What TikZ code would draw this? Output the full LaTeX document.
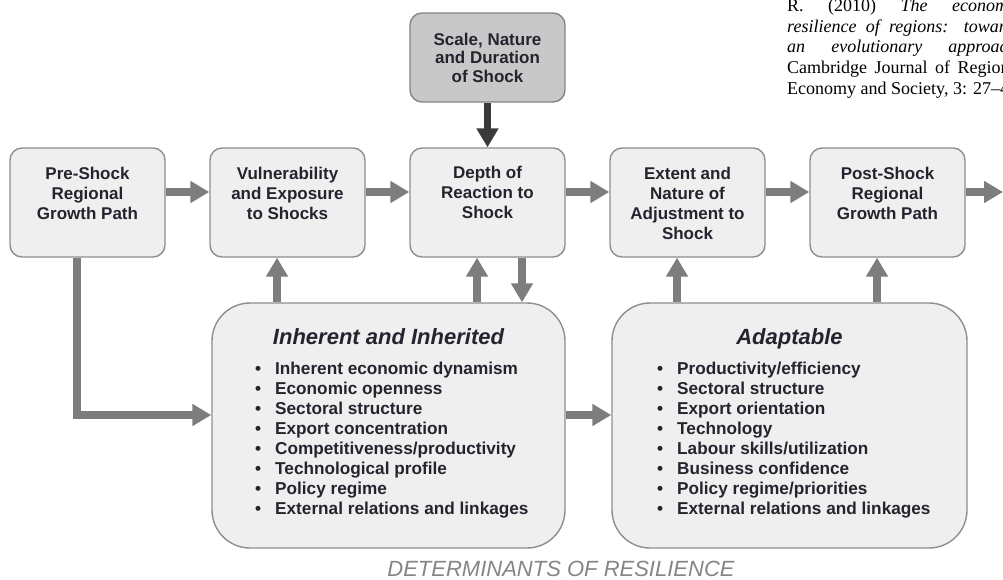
\documentclass[tikz,border=0pt]{standalone}
\usepackage{fontspec}
\setmainfont{Liberation Serif}
\newfontfamily\headfont{Liberation Sans}
\usetikzlibrary{arrows.meta}

\definecolor{panelfill}{HTML}{EFEFEF}
\definecolor{paneledge}{HTML}{8E8E8E}
\definecolor{shockfill}{HTML}{C8C8C8}
\definecolor{shockedge}{HTML}{858585}
\definecolor{linkgray}{HTML}{7D7D7D}
\definecolor{linkdark}{HTML}{3A3A3A}
\definecolor{ink}{HTML}{24242E}
\definecolor{footgray}{HTML}{858585}

\tikzset{
  stage/.style={draw=paneledge, line width=1.4pt, fill=panelfill,
    rounded corners=12pt, minimum width=155pt, minimum height=109pt, inner sep=0pt},
  shockbox/.style={stage, fill=shockfill, draw=shockedge, minimum height=89pt},
  group/.style={draw=paneledge, line width=1.4pt, fill=panelfill,
    rounded corners=38pt, minimum height=245pt, inner sep=0pt},
  stagetext/.style={anchor=base, inner sep=0pt, text=ink,
    font=\headfont\bfseries\fontsize{17}{20}\selectfont},
  grouptitle/.style={anchor=base, inner sep=0pt, text=ink,
    font=\headfont\bfseries\itshape\fontsize{22}{26}\selectfont},
  itemlist/.style={anchor=base west, inner sep=0pt, text=ink,
    font=\headfont\bfseries\fontsize{17.2}{20}\selectfont},
  flow/.style={draw=linkgray, line width=7.5pt,
    -{Triangle[width=21pt,length=19pt]}},
}
% top-aligned stack of lines: its baseline is that of the first line
\newcommand\stack[2][c]{\begin{tabular}[t]{@{}#1@{}}#2\end{tabular}}
\newcommand\bitem[1]{\makebox[20pt][l]{\textbullet}#1}
\newcommand\justline[1]{\makebox[234pt][s]{#1}}

\begin{document}
\begin{tikzpicture}[x=1pt,y=-1pt]
\useasboundingbox (0,0) rectangle (1003,579);
\fill[white] (0,0) rectangle (1003,579);

% reference note, top right (runs past the right edge)
\begin{scope}
\clip (0,0) rectangle (1003,579);
\node[anchor=base west, inner sep=0pt, text=black,
  font=\fontsize{18}{20.7}\selectfont] (note) at (787,11.5)
  {\stack[l]{\justline{R. (2010) \textit{The economic}}\\
   \justline{\textit{resilience of regions: towards}}\\
   \justline{\textit{an evolutionary approach.}}\\
   \justline{Cambridge Journal of Regions,}\\
   Economy and Society, 3: 27--43.}};
\end{scope}

% stages along the growth path
\node[shockbox] (shock) at (487.5,57.5) {};
\node[stage] (pre)   at (87.5,202.5) {};
\node[stage] (vul)   at (287.5,202.5) {};
\node[stage] (depth) at (487.5,202.5) {};
\node[stage] (ext)   at (687.5,202.5) {};
\node[stage] (post)  at (887.5,202.5) {};

\node[stagetext, font=\headfont\bfseries\fontsize{17}{18.7}\selectfont]
  (shockt) at (487.5,45) {\stack{Scale, Nature\\and Duration\\of Shock}};
\node[stagetext] (pret)  at (87.5,179)  {\stack{Pre-Shock\\Regional\\Growth Path}};
\node[stagetext] (vult)  at (287.5,179) {\stack{Vulnerability\\and Exposure\\to Shocks}};
\node[stagetext] (deptht) at (487.5,178) {\stack{Depth of\\Reaction to\\Shock}};
\node[stagetext] (extt)  at (687.5,179) {\stack{Extent and\\Nature of\\Adjustment to\\Shock}};
\node[stagetext] (postt) at (887.5,179) {\stack{Post-Shock\\Regional\\Growth Path}};

% determinant groups
\node[group, minimum width=353pt] (inh) at (388.5,425.5) {};
\node[group, minimum width=355pt] (ada) at (789.5,425.5) {};

\node[grouptitle] (inht) at (388.5,344) {Inherent and Inherited};
\node[grouptitle] (adat) at (789.5,344) {Adaptable};

\node[itemlist] (inhl) at (255,374) {\stack[l]{%
  \bitem{Inherent economic dynamism}\\
  \bitem{Economic openness}\\
  \bitem{Sectoral structure}\\
  \bitem{Export concentration}\\
  \bitem{Competitiveness/productivity}\\
  \bitem{Technological profile}\\
  \bitem{Policy regime}\\
  \bitem{External relations and linkages}}};

\node[itemlist] (adal) at (657,374) {\stack[l]{%
  \bitem{Productivity/efficiency}\\
  \bitem{Sectoral structure}\\
  \bitem{Export orientation}\\
  \bitem{Technology}\\
  \bitem{Labour skills/utilization}\\
  \bitem{Business confidence}\\
  \bitem{Policy regime/priorities}\\
  \bitem{External relations and linkages}}};

\node[anchor=base, inner sep=0pt, text=footgray,
  font=\headfont\itshape\fontsize{22}{24}\selectfont] (foot) at (561,576)
  {DETERMINANTS OF RESILIENCE};

% connectors
\coordinate (exit) at (1003,192);
\draw[flow, draw=linkdark] (shock.south) -- (depth.north);
\draw[flow] ([yshift=10.5pt]pre.east) -- ([yshift=10.5pt]vul.west);
\draw[flow] ([yshift=10.5pt]vul.east) -- ([yshift=10.5pt]depth.west);
\draw[flow] ([yshift=10.5pt]depth.east) -- ([yshift=10.5pt]ext.west);
\draw[flow] ([yshift=10.5pt]ext.east) -- ([yshift=10.5pt]post.west);
\draw[flow] ([yshift=10.5pt]post.east) -- (exit);

\draw[flow] ([xshift=-10.5pt]pre.south) |- ([yshift=10.5pt]inh.west);
\draw[flow] ([yshift=10.5pt]inh.east) -- ([yshift=10.5pt]ada.west);

\draw[flow] ([xshift=-10.5pt]vul.south |- inh.north) -- ([xshift=-10.5pt]vul.south);
\draw[flow] ([xshift=-10.5pt]depth.south |- inh.north) -- ([xshift=-10.5pt]depth.south);
\draw[flow] ([xshift=34.5pt]depth.south) -- ([xshift=34.5pt]depth.south |- inh.north);
\draw[flow] ([xshift=-10.5pt]ext.south |- ada.north) -- ([xshift=-10.5pt]ext.south);
\draw[flow] ([xshift=-10.5pt]post.south |- ada.north) -- ([xshift=-10.5pt]post.south);
\end{tikzpicture}
\end{document}
